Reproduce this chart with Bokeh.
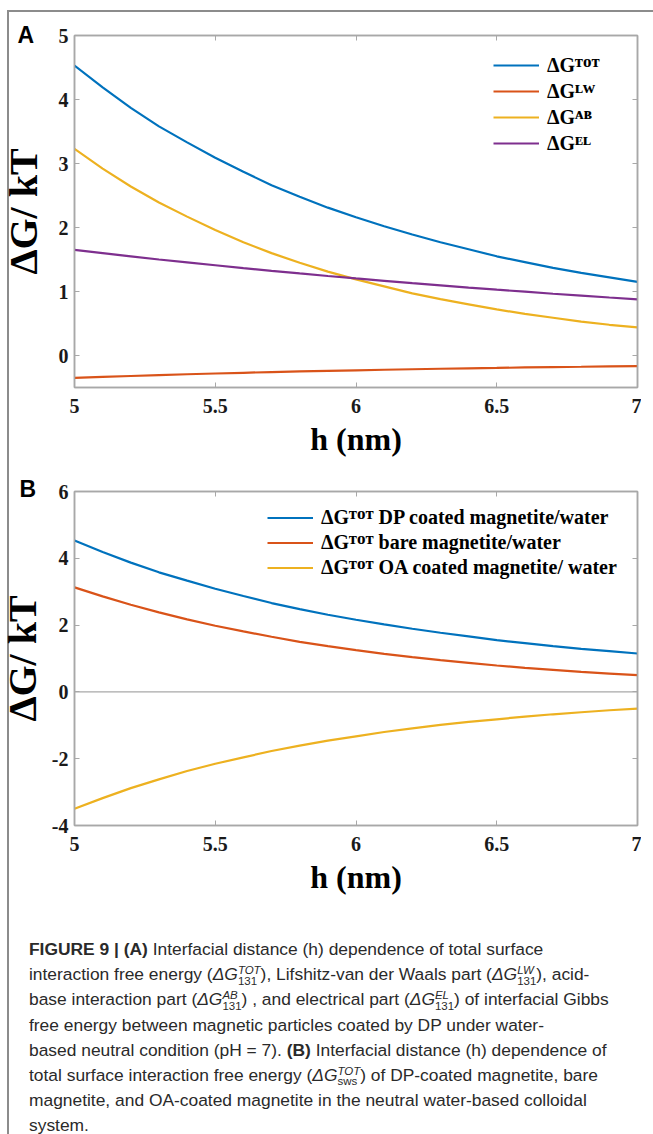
from bokeh.plotting import figure
from bokeh.models import (Range1d, LinearAxis, FixedTicker, NumeralTickFormatter,
                          Legend, LegendItem, Span, Div)
from bokeh.layouts import column
from bokeh.embed import file_html
from bokeh.resources import INLINE

# ---------------- data ----------------
h_nm = [5.0, 5.1, 5.2, 5.3, 5.4, 5.5, 5.6, 5.7, 5.8, 5.9, 6.0,
        6.1, 6.2, 6.3, 6.4, 6.5, 6.6, 6.7, 6.8, 6.9, 7.0]

dG_tot = [4.53, 4.19, 3.87, 3.58, 3.33, 3.09, 2.87, 2.66, 2.48, 2.31, 2.16,
          2.02, 1.89, 1.77, 1.66, 1.55, 1.46, 1.37, 1.29, 1.22, 1.15]
dG_lw = [-0.350, -0.334, -0.320, -0.306, -0.293, -0.281, -0.270, -0.259, -0.249, -0.240, -0.231,
         -0.223, -0.215, -0.207, -0.200, -0.194, -0.187, -0.181, -0.176, -0.170, -0.165]
dG_ab = [3.23, 2.92, 2.64, 2.39, 2.17, 1.96, 1.77, 1.60, 1.45, 1.31, 1.19,
         1.08, 0.97, 0.88, 0.80, 0.72, 0.65, 0.59, 0.53, 0.48, 0.44]
dG_el = [1.650, 1.600, 1.550, 1.500, 1.455, 1.410, 1.366, 1.323, 1.282, 1.242, 1.204,
         1.167, 1.130, 1.096, 1.061, 1.028, 0.997, 0.965, 0.936, 0.906, 0.878]

dp_coated = [4.53, 4.19, 3.87, 3.58, 3.33, 3.09, 2.87, 2.66, 2.48, 2.31, 2.16,
             2.02, 1.89, 1.77, 1.66, 1.55, 1.46, 1.37, 1.29, 1.22, 1.15]
bare = [3.13, 2.86, 2.61, 2.38, 2.17, 1.98, 1.81, 1.65, 1.50, 1.37, 1.25,
        1.14, 1.04, 0.95, 0.87, 0.79, 0.72, 0.66, 0.60, 0.55, 0.50]
oa_coated = [-3.50, -3.18, -2.88, -2.62, -2.37, -2.15, -1.96, -1.77, -1.61, -1.46, -1.33,
             -1.20, -1.09, -0.99, -0.90, -0.82, -0.74, -0.67, -0.61, -0.55, -0.50]

x_ticks = [5, 5.5, 6, 6.5, 7]
yA_ticks = [0, 1, 2, 3, 4, 5]
yB_ticks = [-4, -2, 0, 2, 4, 6]

labels_A = ["\u0394G\u1D40\u1D3C\u1D40", "\u0394G\u1D38\u1D42", "\u0394G\u1D2C\u1D2E", "\u0394G\u1D31\u1D38"]
labels_B = ["\u0394G\u1D40\u1D3C\u1D40 DP coated magnetite/water",
            "\u0394G\u1D40\u1D3C\u1D40 bare magnetite/water",
            "\u0394G\u1D40\u1D3C\u1D40 OA coated magnetite/ water"]

BLUE, ORANGE, YELLOW, PURPLE = "#0072BD", "#D95319", "#EDB120", "#7E2F8E"
GRAY = "#a8a8a8"
SERIF = "Liberation Serif"


def make_panel(width, height, left, right, top, bottom, y_lo, y_hi, y_ticks, tick_px,
               letter, letter_offset, letter_standoff, ylabel_standoff, shift_px):
    p = figure(width=width, height=height, output_backend="svg", toolbar_location=None,
               x_range=Range1d(5, 7), y_range=Range1d(y_lo, y_hi),
               min_border_left=left, min_border_right=right,
               min_border_top=top, min_border_bottom=bottom,
               styles={"margin-left": f"{shift_px}px"})
    p.grid.visible = False
    p.outline_line_color = GRAY
    p.outline_line_width = 1.5
    p.background_fill_color = "white"
    p.border_fill_color = None
    # panel letter as the plot title
    p.title.text = letter
    p.title.text_font = "Liberation Sans"
    p.title.text_font_style = "bold"
    p.title.text_font_size = "23px"
    p.title.text_color = "black"
    p.title.align = "left"
    p.title.vertical_align = "bottom"
    p.title.offset = letter_offset
    p.title.standoff = letter_standoff
    for ax in p.xaxis + p.yaxis:
        ax.major_tick_in = 5
        ax.major_tick_out = 0
        ax.minor_tick_line_color = None
        ax.axis_line_color = GRAY
        ax.axis_line_width = 1.5
        ax.major_tick_line_color = GRAY
        ax.major_label_text_font = SERIF
        ax.major_label_text_font_style = "bold"
        ax.major_label_text_font_size = tick_px
        ax.major_label_text_color = "#1a1a1a"
        ax.axis_label_text_font = SERIF
        ax.axis_label_text_font_style = "bold"
        ax.axis_label_text_color = "black"
    p.xaxis.axis_label_text_font_size = "32px"
    p.yaxis.axis_label_text_font_size = "40px"
    p.xaxis.ticker = FixedTicker(ticks=x_ticks)
    p.yaxis.ticker = FixedTicker(ticks=y_ticks)
    p.xaxis.formatter = NumeralTickFormatter(format="0.[0]")
    p.yaxis.formatter = NumeralTickFormatter(format="0")
    p.xaxis.axis_label = "h (nm)"
    p.yaxis.axis_label = "\u0394G/ kT"
    p.xaxis.major_label_standoff = 11
    p.xaxis.axis_label_standoff = 5
    p.yaxis.major_label_standoff = 6
    p.yaxis.axis_label_standoff = ylabel_standoff
    # box ticks on top and right
    top_ax = LinearAxis(ticker=FixedTicker(ticks=x_ticks), major_label_text_font_size="0px",
                        major_label_standoff=0, major_tick_in=5, major_tick_out=0,
                        minor_tick_line_color=None, axis_line_color=GRAY, axis_line_width=1.5,
                        major_tick_line_color=GRAY)
    right_ax = LinearAxis(ticker=FixedTicker(ticks=y_ticks), major_label_text_font_size="0px",
                          major_label_standoff=0, major_tick_in=5, major_tick_out=0,
                          minor_tick_line_color=None, axis_line_color=GRAY, axis_line_width=1.5,
                          major_tick_line_color=GRAY)
    p.add_layout(top_ax, "above")
    p.add_layout(right_ax, "right")
    return p


def legend_for(items, loc, font_px, row_h):
    return Legend(items=items, location=loc, glyph_width=46, glyph_height=row_h,
                  label_height=row_h, label_standoff=8, spacing=0, padding=0, margin=0,
                  border_line_color=None, background_fill_alpha=0,
                  label_text_font=SERIF, label_text_font_style="bold",
                  label_text_font_size=font_px, label_text_color="black")


# ---------------- panel A ----------------
pA = make_panel(653, 453, 67, 4, 23, 78, -0.5, 5, yA_ticks, "20px", "A", -57, -24, 10, -13)
rA = []
for ys, c in zip([dG_tot, dG_lw, dG_ab, dG_el], [BLUE, ORANGE, YELLOW, PURPLE]):
    rA.append(pA.line(h_nm, ys, line_color=c, line_width=2.2))
pA.add_layout(legend_for([LegendItem(label=l, renderers=[r]) for l, r in zip(labels_A, rA)],
                         (419, 231), "20px", 26))

# ---------------- panel B ----------------
pB = make_panel(653, 440, 65, 4, 26, 80, -4, 6, yB_ticks, "20px", "B", -55, -20, 4, -13)
pB.add_layout(Span(location=0, dimension="width", line_color=GRAY, line_width=1.2))
rB = []
for ys, c in zip([dp_coated, bare, oa_coated], [BLUE, ORANGE, YELLOW]):
    rB.append(pB.line(h_nm, ys, line_color=c, line_width=2.2))
pB.add_layout(legend_for([LegendItem(label=l, renderers=[r]) for l, r in zip(labels_B, rB)],
                         (193, 245), "20px", 25))


# ---------------- caption ----------------
def g(sup, sub):
    return ('<i>\u0394G</i><span style="display:inline-block;vertical-align:-0.38em;'
            'font-size:0.66em;line-height:0.92em;text-align:left;">'
            f'<i>{sup}</i><br>{sub}</span>')


cap_lines = [
    "<b>FIGURE 9 | (A)</b> Interfacial distance (h) dependence of total surface",
    f"interaction free energy ({g('TOT', '131')}), Lifshitz-van der Waals part ({g('LW', '131')}), acid-",
    f"base interaction part ({g('AB', '131')}) , and electrical part ({g('EL', '131')}) of interfacial Gibbs",
    "free energy between magnetic particles coated by DP under water-",
    "based neutral condition (pH = 7). <b>(B)</b> Interfacial distance (h) dependence of",
    f"total surface interaction free energy ({g('TOT', 'sws')}) of DP-coated magnetite, bare",
    "magnetite, and OA-coated magnetite in the neutral water-based colloidal",
    "system.",
]
cap_html = ('<div style="font-family:\'Liberation Sans\', Arial, sans-serif;font-size:17.4px;'
            'line-height:25.2px;color:#2a2a2a;white-space:nowrap;padding-left:15px;padding-top:27px;">'
            + "<br>".join(cap_lines) + "</div>")
cap = Div(text=cap_html, width=635, height=229, styles={"overflow": "hidden"})

layout = column(pA, pB, cap, styles={"border-left": "2px solid #8c8c8c",
                                     "border-top": "2px solid #8c8c8c",
                                     "margin-left": "7px", "margin-top": "10px"})

open("out.html", "w").write(file_html(layout, INLINE))
